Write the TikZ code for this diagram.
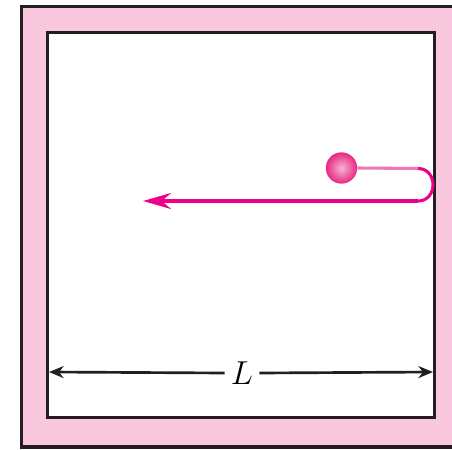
\documentclass[tikz,border=0pt]{standalone}
\usetikzlibrary{arrows.meta}
\definecolor{wallpink}{RGB}{249,199,222}
\definecolor{wallline}{RGB}{35,31,32}
\definecolor{cordpink}{RGB}{236,0,140}
\definecolor{cordlight}{RGB}{242,120,175}
\definecolor{ballpink}{RGB}{232,40,130}
\begin{document}
\begin{tikzpicture}[x=0.75pt, y=-0.75pt, >={Stealth[length=11pt, width=9pt]}]
        % Frame
        \clip (0, 0) rectangle (452, 449);
        \fill[white] (0, 0) rectangle (452, 449);
        \draw[line width=2.4pt, draw=wallline, fill=wallpink] (21.5, 6.5) rectangle (470, 447);
        \draw[line width=2.4pt, draw=wallline, fill=white] (47.5, 32.5) rectangle (434.5, 417.5);

        % Ball and cord
        \node[circle, minimum size=23.5pt, inner sep=0pt, inner color=ballpink!35!white, outer color=ballpink] (ball) at (341.5, 168) {};
        \coordinate (turnA) at (418, 168.5);
        \coordinate (turnB) at (418, 201);
        \coordinate (tip) at (143, 201);
        \draw[line width=2.3pt, cordlight] (ball.east) -- (turnA);
        \draw[line width=2.3pt, cordpink] (turnA) .. controls (438, 168.5) and (438, 201) .. (turnB);
        \draw[->, line width=2.3pt, cordpink, >={Stealth[length=21pt, width=12pt, inset=7pt]}] (turnB) -- (tip);

        % Length
        \coordinate (left) at (49, 372);
        \coordinate (right) at (433, 372);
        \node[inner sep=0pt, font=\fontsize{26}{30}\selectfont] (len) at (242, 373) {$L$};
        \draw[->, line width=2pt, wallline] (len.west) ++(-6, 0) -- (left);
        \draw[->, line width=2pt, wallline] (len.east) ++(6, 0) -- (right);
    \end{tikzpicture}
\end{document}
